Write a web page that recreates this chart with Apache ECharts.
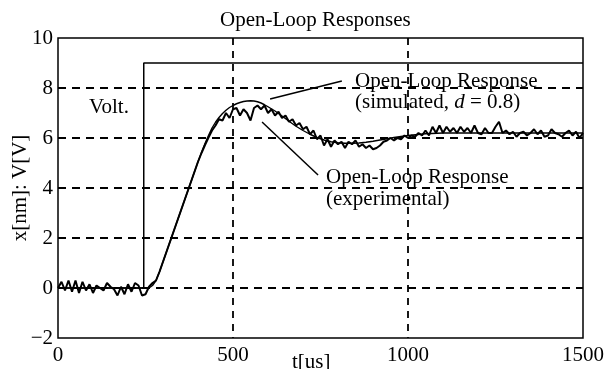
<!DOCTYPE html>
<html>
<head>
<meta charset="utf-8">
<script src="https://cdn.jsdelivr.net/npm/echarts/dist/echarts.min.js"></script>
<style>
  html, body { margin: 0; padding: 0; background: #fff; }
  #chart { width: 605px; height: 369px; }
</style>
</head>
<body>
<div id="chart"></div>
<script>
// Axis ticks
const xTicks = [0, 500, 1000, 1500];
const yTicks = [-2, 0, 2, 4, 6, 8, 10];

// Input voltage step [us, V]
const stepT = [0, 245, 245, 1500];
const stepV = [0, 0, 9, 9];

// Simulated open-loop response (d = 0.8)
const simT = [0, 260,
  270, 280, 290, 300, 310, 320, 330, 340, 350, 360,
  370, 380, 390, 400, 410, 420, 430, 440, 450, 460,
  470, 480, 490, 500, 510, 520, 530, 540, 550, 560,
  570, 580, 590, 600,
  620, 640, 660, 680, 700, 720, 740, 760, 780, 800,
  820, 840, 860, 880, 900, 920, 940, 960, 980, 1000,
  1050, 1100, 1200, 1300, 1400, 1500];
const simV = [0, 0,
  0.1, 0.3, 0.65, 1.05, 1.45, 1.85, 2.25, 2.65, 3.05, 3.45,
  3.85, 4.25, 4.65, 5.05, 5.42, 5.78, 6.1, 6.4, 6.63, 6.82,
  6.98, 7.11, 7.22, 7.3, 7.37, 7.42, 7.46, 7.48, 7.49, 7.48,
  7.45, 7.4, 7.33, 7.25,
  7.08, 6.88, 6.67, 6.47, 6.3, 6.15, 6.02, 5.92, 5.85, 5.81,
  5.79, 5.79, 5.8, 5.83, 5.87, 5.92, 5.97, 6.02, 6.06, 6.1,
  6.17, 6.2, 6.2, 6.2, 6.2, 6.2];

// Measured open-loop response, one sample every 10 us from t = 0
const expDt = 10;
const expV = [
  0.0, 0.25, -0.1, 0.3, -0.15, 0.3, -0.2, 0.25, -0.1, 0.15,
  -0.2, 0.1, 0.0, -0.1, 0.2, 0.05, -0.05, -0.3, 0.05, -0.25,
  0.15, -0.15, 0.2, 0.1, -0.3, -0.25, 0.05, 0.2, 0.3, 0.65,
  1.05, 1.45, 1.85, 2.25, 2.65, 3.05, 3.45, 3.85, 4.25, 4.65,
  5.05, 5.4, 5.72, 6.02, 6.3, 6.5, 6.75, 6.7, 7.0, 6.8,
  7.15, 7.2, 6.9, 7.15, 7.0, 6.7, 7.2, 7.3, 7.15, 7.3,
  7.0, 7.15, 6.9, 7.05, 6.8, 6.9, 6.65, 6.75, 6.5, 6.6,
  6.35, 6.45, 6.15, 6.3, 5.95, 6.1, 5.7, 5.95, 5.65, 5.9,
  5.75, 5.85, 5.6, 5.85, 5.75, 5.9, 5.65, 5.75, 5.6, 5.7,
  5.55, 5.6, 5.7, 5.85, 5.9, 6.0, 5.9, 6.0, 5.95, 6.1,
  6.0, 6.1, 6.05, 6.2, 6.1, 6.3, 6.1, 6.45, 6.2, 6.5,
  6.2, 6.45, 6.25, 6.4, 6.2, 6.45, 6.25, 6.4, 6.2, 6.5,
  6.2, 6.15, 6.4, 6.2, 6.2, 6.45, 6.65, 6.2, 6.3, 6.15,
  6.25, 6.05, 6.2, 6.25, 6.1, 6.2, 6.35, 6.15, 6.3, 6.05,
  6.1, 6.35, 6.2, 6.15, 6.05, 6.2, 6.3, 6.1, 6.25, 6.0,
  6.2
];

// Leader lines from the annotations to the curves [us, V]
const leaderSimT = [606, 811];
const leaderSimV = [7.56, 8.28];
const leaderExpT = [583, 743];
const leaderExpV = [6.64, 4.52];

const FONT = '"Liberation Serif", "Times New Roman", serif';
const FS = 21;

const pairs = (ts, vs) => ts.map((t, i) => [t, vs[i]]);
const expData = expV.map((v, i) => [i * expDt, v]);
const fmt = v => (v < 0 ? '\u2212' + Math.abs(v) : String(v));

const lineSeries = (name, data, width) => ({
  name, type: 'line', data,
  showSymbol: false, symbol: 'none', silent: true,
  lineStyle: { color: '#000', width },
  z: 3
});

const textEl = (x, y, text, extra) => ({
  type: 'text', x, y,
  style: Object.assign({ text, font: FS + 'px ' + FONT, fill: '#000', verticalAlign: 'middle' }, extra || {})
});

const chart = echarts.init(document.getElementById('chart'), null, { renderer: 'canvas' });

chart.setOption({
  animation: false,
  backgroundColor: '#fff',
  title: {
    text: 'Open-Loop Responses',
    left: 220, top: 10, padding: 0,
    textStyle: { fontFamily: FONT, fontSize: FS, fontWeight: 'normal', color: '#000' }
  },
  grid: {
    left: 58, right: 22, top: 38, bottom: 31,
    show: true, borderColor: '#000', borderWidth: 1.5,
    containLabel: false, outerBoundsMode: 'none'
  },
  xAxis: {
    type: 'value', min: xTicks[0], max: xTicks[xTicks.length - 1], interval: 500,
    axisLine: { show: false }, axisTick: { show: false },
    axisLabel: { margin: 7, fontFamily: FONT, fontSize: FS, color: '#000', formatter: fmt },
    splitLine: {
      show: true, showMinLine: false, showMaxLine: false,
      lineStyle: { color: '#000', width: 1.8, type: [7, 6] }
    }
  },
  yAxis: {
    type: 'value', min: yTicks[0], max: yTicks[yTicks.length - 1], interval: 2,
    name: 'x[nm]: V[V]', nameLocation: 'middle', nameGap: 27, nameMoveOverlap: false,
    nameTextStyle: { fontFamily: FONT, fontSize: FS, color: '#000' },
    axisLine: { show: false }, axisTick: { show: false },
    axisLabel: { margin: 5, fontFamily: FONT, fontSize: FS, color: '#000', formatter: fmt },
    splitLine: {
      show: true, showMinLine: false, showMaxLine: false,
      lineStyle: { color: '#000', width: 1.8, type: [8, 6] }
    }
  },
  series: [
    lineSeries('Volt.', pairs(stepT, stepV), 1.5),
    lineSeries('simulated', pairs(simT, simV), 1.4),
    lineSeries('experimental', expData, 2),
    lineSeries('leader-sim', pairs(leaderSimT, leaderSimV), 1.5),
    lineSeries('leader-exp', pairs(leaderExpT, leaderExpV), 1.5)
  ],
  graphic: [
    textEl(292, 362, 't[us]'),
    textEl(89, 107, 'Volt.'),
    textEl(355, 81, 'Open-Loop Response'),
    textEl(355, 102, '(simulated, {i|d} = 0.8)', {
      rich: { i: { fontStyle: 'italic', fontFamily: FONT, fontSize: FS, fill: '#000' } }
    }),
    textEl(326, 177, 'Open-Loop Response'),
    textEl(326, 199, '(experimental)')
  ]
});
</script>
</body>
</html>
